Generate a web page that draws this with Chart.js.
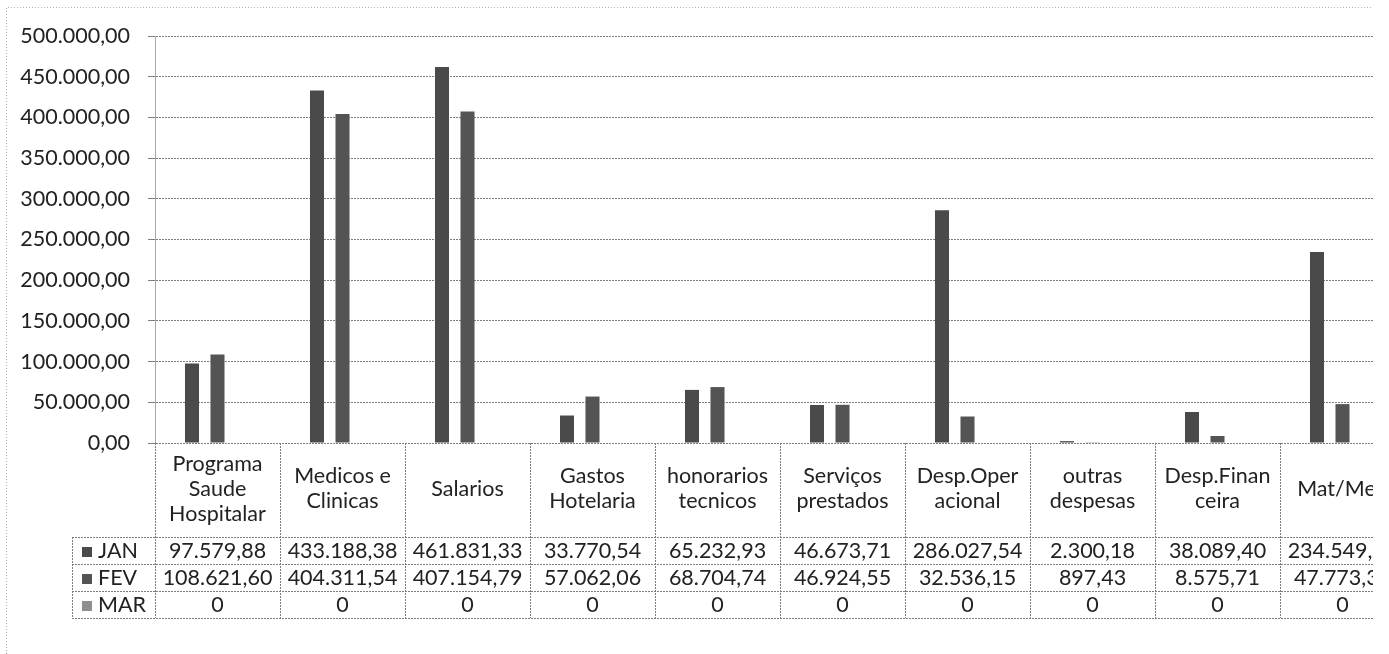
<!DOCTYPE html>
<html>
<head>
<meta charset="utf-8">
<script src="https://cdn.jsdelivr.net/npm/chart.js@4/dist/chart.umd.min.js"></script>
<style>
  html, body { margin: 0; padding: 0; background: #fff; overflow: hidden; }
  #clip { position: absolute; left: 0; top: 0; width: 1373px; height: 654px; overflow: hidden; background: #fff; }
  canvas { display: block; }
</style>
</head>
<body>
<div id="clip"><canvas id="c" width="1410" height="654"></canvas></div>
<script>
// Expense categories, one header cell each (lines as wrapped in the table header)
const categories = [
  ['Programa', 'Saude', 'Hospitalar'],
  ['Medicos e', 'Clinicas'],
  ['Salarios'],
  ['Gastos', 'Hotelaria'],
  ['honorarios', 'tecnicos'],
  ['Serviços', 'prestados'],
  ['Desp.Oper', 'acional'],
  ['outras', 'despesas'],
  ['Desp.Finan', 'ceira'],
  ['Mat/Med']
];

// Monthly values (R$)
const jan = [97579.88, 433188.38, 461831.33, 33770.54, 65232.93, 46673.71, 286027.54, 2300.18, 38089.40, 234549.00];
const fev = [108621.60, 404311.54, 407154.79, 57062.06, 68704.74, 46924.55, 32536.15, 897.43, 8575.71, 47773.30];
const mar = [0, 0, 0, 0, 0, 0, 0, 0, 0, 0];

const seriesNames = ['JAN', 'FEV', 'MAR'];
const seriesColors = ['#4a4a4a', '#545454', '#8f8f8f'];

// Value axis ticks
const yTicks = [0, 50000, 100000, 150000, 200000, 250000, 300000, 350000, 400000, 450000, 500000];

const FONT = 'Lato, "Open Sans", sans-serif';
const FONT_SIZE = 21.5;
const TEXT = '#222222';

function fmt2(v) {
  const s = Math.abs(v).toFixed(2);
  let [i, d] = s.split('.');
  i = i.replace(/\B(?=(\d{3})+(?!\d))/g, '.');
  return (v < 0 ? '-' : '') + i + ',' + d;
}
function fmtCell(v) { return v === 0 ? '0' : fmt2(v); }

// Table geometry (rows below the plot)
const ROW_H = 27;
const HEADER_H = 94;
const LABEL_LEFT = 72;

const dataTable = {
  id: 'dataTable',
  afterDraw(chart) {
    const ctx = chart.ctx;
    const xs = chart.scales.x;
    const area = chart.chartArea;
    const n = categories.length;
    const catW = (area.right - area.left) / n;
    const top = area.bottom;
    const rowTop = top + HEADER_H;
    const bottom = rowTop + ROW_H * 3;
    const rightEdge = chart.width;

    ctx.save();
    ctx.strokeStyle = '#7d7d7d';
    ctx.lineWidth = 1;
    ctx.setLineDash([2, 1]);

    // vertical cell borders
    for (let i = 0; i <= n; i++) {
      const x = Math.round(area.left + catW * i) + 0.5;
      ctx.beginPath();
      ctx.moveTo(x, top);
      ctx.lineTo(x, bottom);
      ctx.stroke();
    }
    // row label column left border
    ctx.beginPath();
    ctx.moveTo(LABEL_LEFT + 0.5, rowTop);
    ctx.lineTo(LABEL_LEFT + 0.5, bottom);
    ctx.stroke();
    // horizontal row borders
    for (let r = 0; r <= 3; r++) {
      const y = Math.round(rowTop + ROW_H * r) + 0.5;
      ctx.beginPath();
      ctx.moveTo(LABEL_LEFT, y);
      ctx.lineTo(rightEdge, y);
      ctx.stroke();
    }
    ctx.setLineDash([]);

    ctx.fillStyle = TEXT;
    ctx.font = FONT_SIZE + 'px ' + FONT;
    ctx.textAlign = 'center';
    ctx.textBaseline = 'middle';

    // header cells
    const lh = 25;
    const hc = top + HEADER_H / 2 - 1;
    categories.forEach((lines, i) => {
      const cx = xs.getPixelForValue(i);
      const y0 = hc - (lines.length - 1) * lh / 2;
      lines.forEach((t, k) => ctx.fillText(t, cx, y0 + k * lh));
    });

    // value rows with legend keys
    const series = [jan, fev, mar];
    series.forEach((vals, r) => {
      const cy = rowTop + ROW_H * r + ROW_H / 2 + 1;
      vals.forEach((v, i) => {
        ctx.fillText(fmtCell(v), xs.getPixelForValue(i), cy);
      });
      ctx.fillStyle = seriesColors[r];
      ctx.fillRect(82, Math.round(cy - 5), 10, 10);
      ctx.fillStyle = TEXT;
      ctx.textAlign = 'left';
      ctx.fillText(seriesNames[r], 98, cy);
      ctx.textAlign = 'center';
    });

    // chart frame
    ctx.strokeStyle = '#b0b0b0';
    ctx.setLineDash([1, 2]);
    ctx.beginPath();
    ctx.moveTo(6.5, chart.height);
    ctx.lineTo(6.5, 7.5);
    ctx.lineTo(rightEdge, 7.5);
    ctx.stroke();
    ctx.restore();
  }
};

new Chart(document.getElementById('c'), {
  type: 'bar',
  data: {
    labels: categories.map(l => l.join(' ')),
    datasets: [
      { label: seriesNames[0], data: jan, backgroundColor: seriesColors[0] },
      { label: seriesNames[1], data: fev, backgroundColor: seriesColors[1] },
      { label: seriesNames[2], data: mar, backgroundColor: seriesColors[2] }
    ]
  },
  options: {
    responsive: false,
    animation: false,
    devicePixelRatio: 1,
    layout: { padding: { left: 0, top: 36, right: 5, bottom: 211 } },
    datasets: { bar: { categoryPercentage: 0.612, barPercentage: 0.55 } },
    plugins: {
      legend: { display: false },
      tooltip: { enabled: false },
      title: { display: false }
    },
    scales: {
      x: { display: false },
      y: {
        min: 0,
        max: 500000,
        afterFit(scale) { scale.width = 155; },
        afterBuildTicks(scale) { scale.ticks = yTicks.map(v => ({ value: v })); },
        ticks: {
          padding: 18,
          color: TEXT,
          font: { family: FONT, size: FONT_SIZE },
          callback: v => fmt2(v)
        },
        grid: { color: '#7d7d7d', lineWidth: 1, tickLength: 7, drawTicks: true },
        border: { display: true, color: '#a8a8a8', dash: [2, 1] }
      }
    }
  },
  plugins: [dataTable]
});
</script>
</body>
</html>
